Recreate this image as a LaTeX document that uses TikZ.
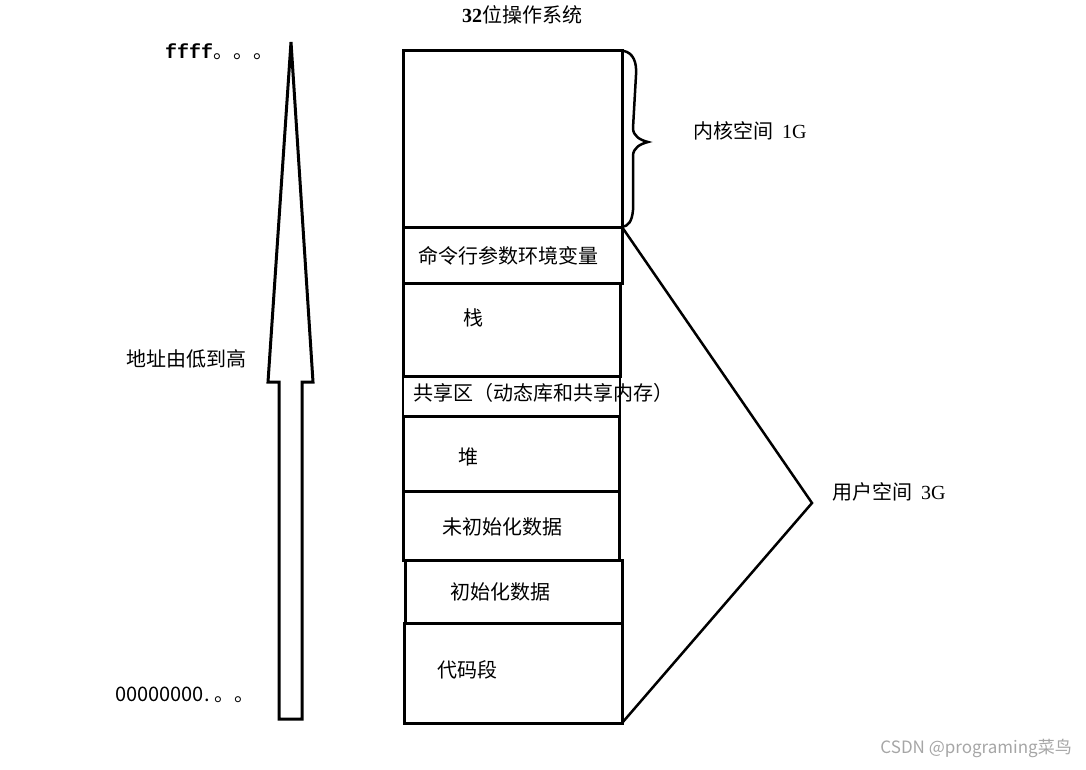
\documentclass[tikz,border=0pt]{standalone}
\usepackage{fontspec}
\setmainfont{Liberation Serif}
\newfontfamily\cjk{Noto Sans CJK SC}
\newfontfamily\monofam{Liberation Mono}
\usepackage{tikz}
\usepackage{xcolor}

\tikzset{
  seg/.style={line width=3pt,line join=miter},
  lbl/.style={inner sep=0pt,font=\cjk\fontsize{20}{22}\selectfont},
  thin line/.style={line width=2.5pt,line join=miter}
}

\begin{document}
\begin{tikzpicture}[x=1pt,y=-1pt,line cap=round]
\useasboundingbox (0,0) rectangle (1086,769);
% memory segments, top to bottom
\draw[seg] (403,50) rectangle (622,227);
\draw[seg] (403,227) rectangle (622,283);
\draw[seg] (403,283) rectangle (620,376);
\draw[seg,line width=2.5pt] (403,376) rectangle (620,416);
\draw[seg] (403,416) rectangle (619,491);
\draw[seg] (403,491) rectangle (619,560);
\draw[seg] (405,560) rectangle (622,623);
\draw[seg] (404,623) rectangle (622,723);
\coordinate (ktop) at (622,50);
\coordinate (ubot) at (622,227);
\coordinate (ubase) at (622,723);
\coordinate (uapex) at (812,503);
% labels in the segments
\node[lbl] (title) at (522,15) {{\rmfamily\bfseries 32}位操作系统};
\node[lbl] (cmdline) at (508,256) {命令行参数环境变量};
\node[lbl] (stack) at (473,318) {栈};
\node[lbl] (shared) at (543,393) {共享区（动态库和共享内存）};
\node[lbl] (heap) at (468,457) {堆};
\node[lbl] (bss) at (502,527) {未初始化数据};
\node[lbl] (data) at (500,592) {初始化数据};
\node[lbl] (text) at (467,670) {代码段};
% kernel brace
\draw[thin line] (ktop) ++(2,1) .. controls (633,53) and (637,62) .. (636,75)
  -- (633,128) .. controls (633,136) and (640,140) .. (648,142)
  .. controls (640,144) and (633,148) .. (633,156)
  -- (633,210) .. controls (632,222) and (628,226) .. (ubot);
\node[lbl,anchor=west] (kernel) at (693,131) {内核空间\ \ {\rmfamily 1G}};
% user space wedge
\draw[thin line] (ubot) -- (uapex) -- (ubase);
\node[lbl,anchor=west] (user) at (832,492) {用户空间\ \ {\rmfamily 3G}};
% address arrow
\draw[seg] (279,719) -- (279,382) -- (268,382) -- (291,42) -- (313,382)
  -- (302,382) -- (302,719) -- cycle;
\node[lbl,anchor=west] (high) at (165,52) {{\monofam\bfseries ffff}。。。};
\node[lbl] (dir) at (186,359) {地址由低到高};
\node[lbl,anchor=west] (low) at (115,695) {00000000.\kern5pt 。。};
% watermark
\node[inner sep=0pt,anchor=east,text=gray!70,font=\cjk\fontsize{17}{19}\selectfont] (mark) at (1072,748) {CSDN @programing菜鸟};
\end{tikzpicture}
\end{document}
